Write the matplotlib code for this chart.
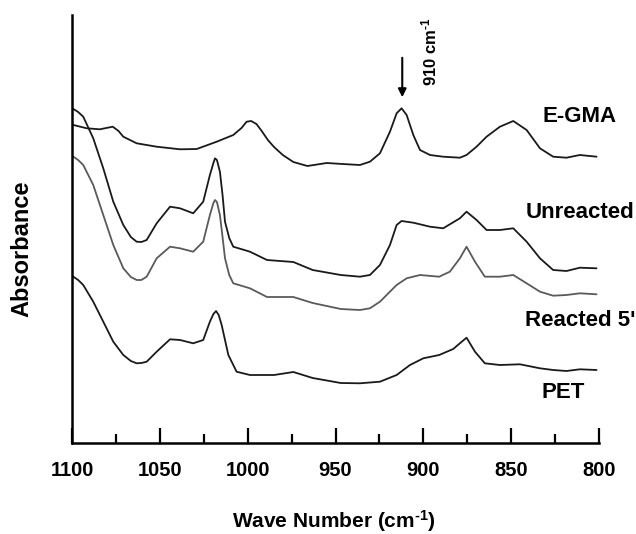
import matplotlib
matplotlib.use("Agg")
import matplotlib.pyplot as plt
from matplotlib.ticker import MultipleLocator

# wave numbers (cm-1) and absorbance (arb. units, curves offset)
egma_x = [1099.2, 1091.6, 1084.1, 1080.5, 1076.8, 1073.5, 1070.8, 1063.2, 1051.8, 1038.5, 1029, 1017.6, 1008.2,
          1003.5, 1000.6, 998, 995, 992, 988.5, 985, 980, 974, 966, 955, 946, 936.1, 930.4, 924.7, 919, 915.2,
          912.4, 909.5, 905.7, 901.9, 896.2, 888.7, 879.2, 875.4, 869.7, 864, 856.4, 848.8, 841.2, 833.6, 826.1,
          818.5, 810.9, 801.4]
egma_y = [3.18, 3.147, 3.137, 3.15, 3.163, 3.12, 3.063, 2.997, 2.963, 2.937, 2.94, 3.013, 3.08,
          3.15, 3.213, 3.22, 3.19, 3.12, 3.03, 2.96, 2.88, 2.81, 2.77, 2.80, 2.79, 2.78, 2.813, 2.897, 3.113, 3.297,
          3.347, 3.28, 3.08, 2.93, 2.88, 2.863, 2.853, 2.88, 2.963, 3.063, 3.163, 3.22, 3.13, 2.947, 2.863,
          2.853, 2.88, 2.863]

unre_x = [1099.2, 1096.5, 1093.6, 1087.9, 1082.2, 1076.5, 1070.8, 1066.5, 1063.2, 1060.5, 1057.5, 1051.8, 1044.2,
          1038.5, 1031, 1025.3, 1021.5, 1019.5, 1018.6, 1017.5, 1015.8, 1014.3, 1012.9, 1010.5, 1008.2, 998.7, 989,
          974, 963, 947, 936.1, 930.4, 924.7, 919, 915.2, 912.4, 905.7, 896.2, 888.7, 879.2, 875.4, 869.7, 864,
          856.4, 848.8, 841.2, 833.6, 826.1, 818.5, 810.9, 801.4]
unre_y = [3.34, 3.31, 3.263, 3.047, 2.747, 2.413, 2.18, 2.06, 2.013, 2.01, 2.03, 2.197, 2.363,
          2.347, 2.297, 2.413, 2.68, 2.80, 2.847, 2.83, 2.713, 2.48, 2.213, 2.05, 1.963, 1.913, 1.83,
          1.81, 1.73, 1.68, 1.663, 1.68, 1.78, 1.98, 2.18, 2.22, 2.203, 2.163, 2.147, 2.247, 2.313, 2.23, 2.13,
          2.13, 2.147, 2.013, 1.847, 1.73, 1.72, 1.753, 1.747]

reac_x = [1099.2, 1096.5, 1093.6, 1087.9, 1082.2, 1076.5, 1070.8, 1066.5, 1063.2, 1060.5, 1057.5, 1051.8, 1044.2,
          1038.5, 1031, 1025.3, 1021.5, 1019.5, 1018.6, 1017.5, 1015.8, 1014.3, 1012.9, 1010.5, 1008.2, 998.7, 989,
          974, 963, 947, 936.1, 930.4, 924.7, 919, 915.2, 909.5, 901.9, 891, 884.9, 879.2, 875.4, 870.6, 865,
          856.4, 848.8, 841.2, 833.6, 826.1, 818.5, 810.9, 801.4]
reac_y = [2.863, 2.83, 2.78, 2.58, 2.28, 1.98, 1.747, 1.66, 1.63, 1.63, 1.663, 1.847, 1.963,
          1.947, 1.913, 2.013, 2.28, 2.40, 2.43, 2.41, 2.28, 2.06, 1.847, 1.68, 1.597, 1.547, 1.46,
          1.46, 1.40, 1.34, 1.33, 1.347, 1.413, 1.513, 1.58, 1.647, 1.68, 1.663, 1.713, 1.847, 1.963, 1.813, 1.663,
          1.663, 1.68, 1.597, 1.513, 1.473, 1.48, 1.497, 1.487]

pet_x = [1099.2, 1096.5, 1093.6, 1087.9, 1082.2, 1076.5, 1070.8, 1066.5, 1063.2, 1060.5, 1057.5, 1051.8, 1044.2,
         1038.5, 1031, 1025.3, 1021.5, 1019.5, 1018, 1016.5, 1014.8, 1011, 1006.3, 998.7, 985, 974, 963, 947,
         936.1, 924.7, 915.2, 907.6, 900, 891, 883, 879, 875.4, 870.6, 865, 856.4, 845, 833.6, 826.1, 818.5,
         810.9, 801.4]
pet_y = [1.663, 1.63, 1.58, 1.413, 1.213, 1.013, 0.88, 0.82, 0.797, 0.80, 0.813, 0.913, 1.037,
         1.03, 0.997, 1.03, 1.213, 1.29, 1.32, 1.28, 1.18, 0.88, 0.713, 0.68, 0.68, 0.71, 0.65, 0.60,
         0.597, 0.613, 0.68, 0.78, 0.847, 0.88, 0.94, 1.00, 1.053, 0.913, 0.797, 0.78, 0.787, 0.747, 0.73, 0.72,
         0.737, 0.73]

names = ["E-GMA", "Unreacted", "Reacted 5'", "PET"]

plt.rcParams['font.family'] = ['Liberation Sans', 'DejaVu Sans']
plt.rcParams['font.weight'] = 'bold'
plt.rcParams['mathtext.fontset'] = 'custom'
plt.rcParams['mathtext.rm'] = 'Liberation Sans:bold'
plt.rcParams['mathtext.default'] = 'rm'

fig = plt.figure(figsize=(6.36, 5.34), dpi=100)
ax = fig.add_axes([72 / 636, 91 / 534, 527 / 636, 428 / 534])

line_kw = dict(lw=1.3, solid_joinstyle='round', solid_capstyle='round')
ax.plot(egma_x, egma_y, color='#1a1a1a', **line_kw)
ax.plot(unre_x, unre_y, color='#1a1a1a', **line_kw)
ax.plot(reac_x, reac_y, color='#5a5a5a', **line_kw)
ax.plot(pet_x, pet_y, color='#1a1a1a', **line_kw)

ax.set_xlim(1100, 800)
ax.set_ylim(0, 4.28)
for s in ['top', 'right']:
    ax.spines[s].set_visible(False)
for s in ['left', 'bottom']:
    ax.spines[s].set_linewidth(1.8)
ax.set_yticks([])
ax.xaxis.set_major_locator(MultipleLocator(50))
ax.xaxis.set_minor_locator(MultipleLocator(25))
ax.tick_params(axis='x', which='major', direction='in', length=11, width=1.6, labelsize=14.5, pad=13)
ax.tick_params(axis='x', which='minor', direction='in', length=6.5, width=1.6)

# curve names
ax.text(811, 3.27, names[0], ha='center', va='center', fontsize=16)
ax.text(811, 2.31, names[1], ha='center', va='center', fontsize=16)
ax.text(810.5, 1.22, names[2], ha='center', va='center', fontsize=16)
ax.text(820.5, 0.50, names[3], ha='center', va='center', fontsize=16)

# 910 band marker
ax.annotate('', xy=(912, 3.43), xytext=(912, 3.88),
            arrowprops=dict(arrowstyle='-|>', color='k', lw=1.5, mutation_scale=12))
ax.text(896.8, 3.91, r'910 cm$^{\text{-}1}$', rotation=90, ha='center', va='center', fontsize=12)

fig.text(334 / 636, 1 - 528 / 534, r'Wave Number (cm$^{\text{-}1}$)', ha='center', va='baseline', fontsize=15)
fig.text(22 / 636, 1 - 249 / 534, 'Absorbance', rotation=90, ha='center', va='center', fontsize=17)

fig.savefig('out.png', dpi=100)
